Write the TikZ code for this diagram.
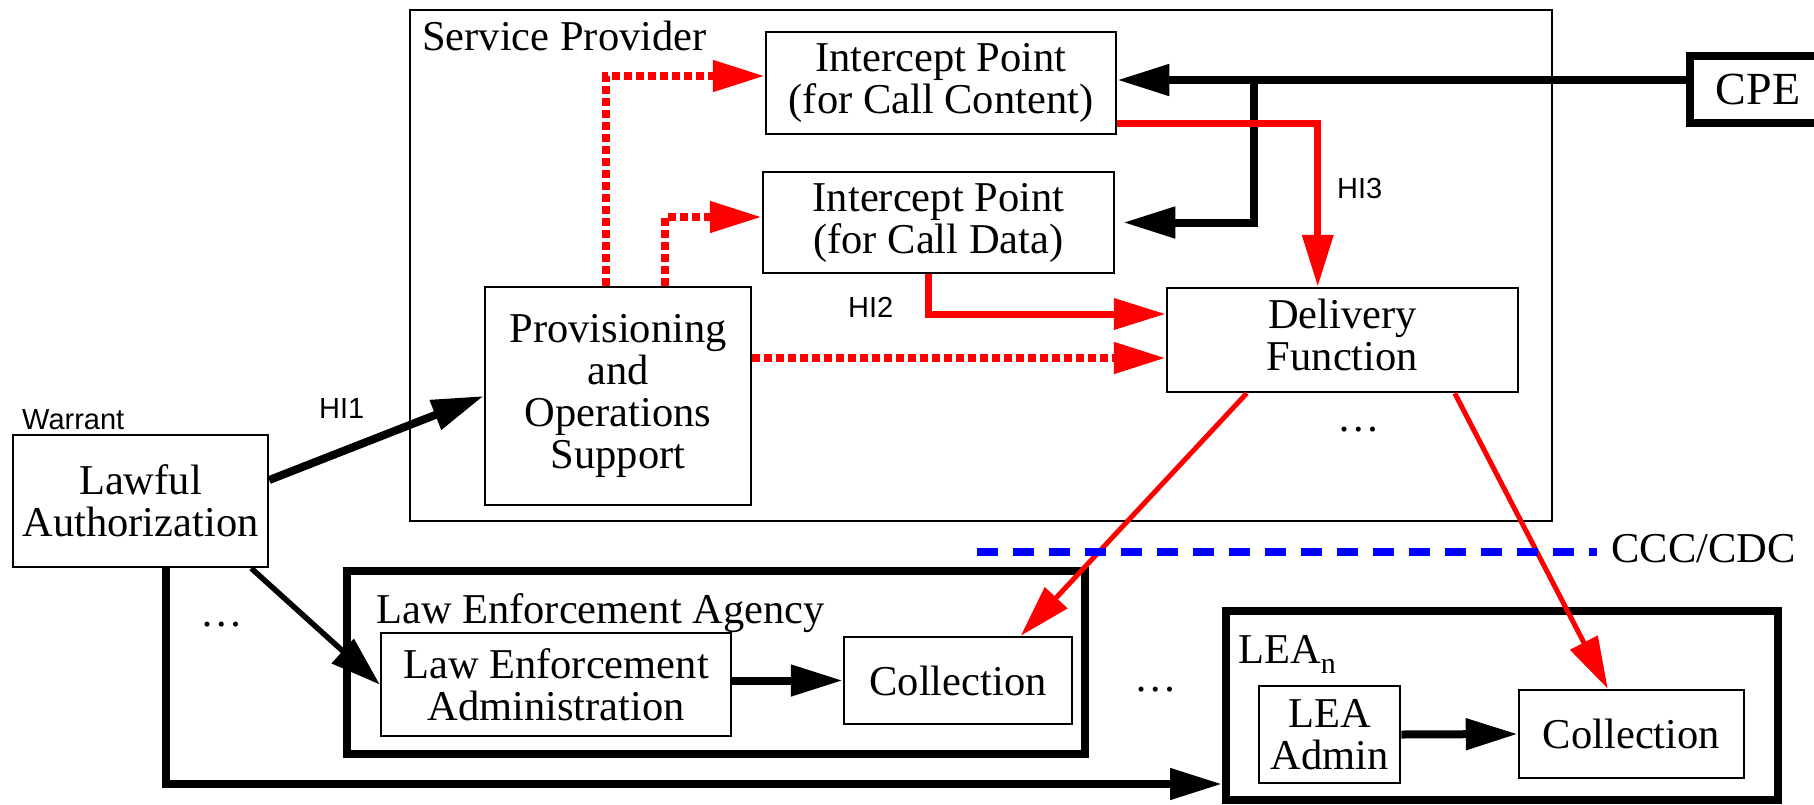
\documentclass[tikz,border=0pt]{standalone}
\usepackage{fontspec}
\setmainfont{Liberation Serif}
\setsansfont{Liberation Sans}
\usepackage{xcolor}
\usepackage{tikz}
\usetikzlibrary{positioning, calc, arrows.meta}

\begin{document}
\begin{tikzpicture}[x=1pt, y=-1pt, font=\fontsize{42.5}{42}\selectfont,
          box/.style={draw, line width=2.5pt, inner sep=2pt, align=center},
          heavybox/.style={draw, line width=8pt, inner sep=2pt},
          plaintext/.style={inner sep=0pt},
          hitag/.style={inner sep=0pt, font=\sffamily\fontsize{29}{29}\selectfont},
          bigarrow/.style={line width=8pt, -{Triangle[length=52pt, width=30pt]}},
          slimarrow/.style={line width=5.5pt, -{Triangle[length=50pt, width=32pt]}},
          redarrow/.style={red, line width=7pt, -{Triangle[length=52pt, width=30pt]}},
          reddots/.style={redarrow, line width=8pt, dash pattern=on 8pt off 4pt},
          redline/.style={red, line width=5pt, -{Triangle[length=52pt, width=30pt]}},
          bluedash/.style={blue, line width=8pt, dash pattern=on 21pt off 15pt}]
          \useasboundingbox (0,0) rectangle (1814,804);
          \clip (0,0) rectangle (1814,804);

          % service provider side
          \node[box, minimum width=1142pt, minimum height=511pt] (sp) at (981,265.5) {};
          \node[plaintext, anchor=base west] (splabel) at (422,50) {Service Provider};
          \node[box, minimum width=350pt, minimum height=102pt] (ipc) at (941,83) {Intercept Point\\(for Call Content)};
          \node[box, minimum width=351pt, minimum height=101pt] (ipd) at (938.5,222.5) {Intercept Point\\(for Call Data)};
          \node[box, minimum width=266pt, minimum height=218pt] (prov) at (618,396) {Provisioning\\and\\Operations\\Support};
          \node[box, minimum width=351pt, minimum height=104pt, text depth=10pt] (df) at (1342.5,340) {Delivery\\Function};
          \node[plaintext, anchor=base] (dotsdf) at (1359,431) {\dots};
          \node[heavybox, minimum width=136pt, minimum height=67pt, font=\fontsize{46}{46}\selectfont] (cpe) at (1758,89.5) {CPE};
          \coordinate (tap) at (1254,80);

          % warrant side
          \node[box, minimum width=255pt, minimum height=132pt] (law) at (140.5,501) {Lawful\\Authorization};
          \node[hitag, anchor=base west] (warrant) at (22,429) {Warrant};
          \node[hitag, anchor=base west] (hione) at (319,418) {HI1};
          \node[hitag, anchor=base west] (hitwo) at (848,317) {HI2};
          \node[hitag, anchor=base west] (hithree) at (1337,198) {HI3};
          \node[plaintext, anchor=base] (dotsleft) at (222,626) {\dots};

          % law enforcement agencies
          \node[heavybox, minimum width=738pt, minimum height=183pt] (lea) at (716,662.5) {};
          \node[plaintext, anchor=base west] (lealabel) at (376,623) {Law Enforcement Agency};
          \node[box, minimum width=350pt, minimum height=103pt] (leadm) at (556,684.5) {Law Enforcement\\Administration};
          \node[box, minimum width=228pt, minimum height=87pt] (coll1) at (958,680.5) {Collection};
          \node[plaintext, anchor=base] (dotslea) at (1156,691) {\dots};
          \node[heavybox, minimum width=552pt, minimum height=189.5pt] (lean) at (1502,705.25) {};
          \node[plaintext, anchor=base west] (leanlabel) at (1238,663) {LEA\raisebox{-10pt}{\fontsize{30}{30}\selectfont n}};
          \node[box, minimum width=141pt, minimum height=97pt] (leaadm) at (1329.5,734.5) {LEA\\Admin};
          \node[box, minimum width=225pt, minimum height=88pt] (coll2) at (1631.5,734) {Collection};

          \node[plaintext, anchor=base east] (ccc) at (1796,562) {CCC/CDC};
          \coordinate (cdcstart) at (977,552);
          \coordinate (cdcend) at (1597,552);

          % connectors
          \draw[bigarrow] (cpe.west |- tap) -- (ipc.east |- tap);
          \draw[bigarrow, shorten >=8pt] (tap) |- (ipd.east);
          \draw[redarrow] ($(ipc.south east)+(0,-12)$) -| ($(df.north west)+(152,0)$);
          \draw[redarrow] ($(ipd.south west)+(167,0)$) |- ($(df.west)+(0,-26)$);
          \draw[reddots] ($(prov.east)+(0,-38)$) -- ($(df.west)+(0,18)$);
          \draw[reddots] ($(prov.north west)+(122,0)$) |- ($(ipc.west)+(0,-7)$);
          \draw[reddots] ($(prov.north west)+(181,0)$) |- ($(ipd.west)+(0,-5.5)$);
          \draw[bigarrow] ($(law.east)+(0,-21)$) -- (prov.west);
          \draw[slimarrow] ($(law.south east)+(-18,0)$) -- (leadm.west);
          \draw[bigarrow] ($(law.south)+(25.5,0)$) |- ($(lean.south west)+(0,-20)$);
          \draw[redline] ($(df.south west)+(81,0)$) -- ($(coll1.north west)+(178,0)$);
          \draw[redline] ($(df.south west)+(289,0)$) -- ($(coll2.north west)+(90,0)$);
          \draw[bigarrow] (leadm.east |- coll1.west) -- (coll1.west);
          \draw[bigarrow] (leaadm.east) -- (coll2.west);
          \draw[bluedash] (cdcstart) -- (cdcend);
\end{tikzpicture}
\end{document}
